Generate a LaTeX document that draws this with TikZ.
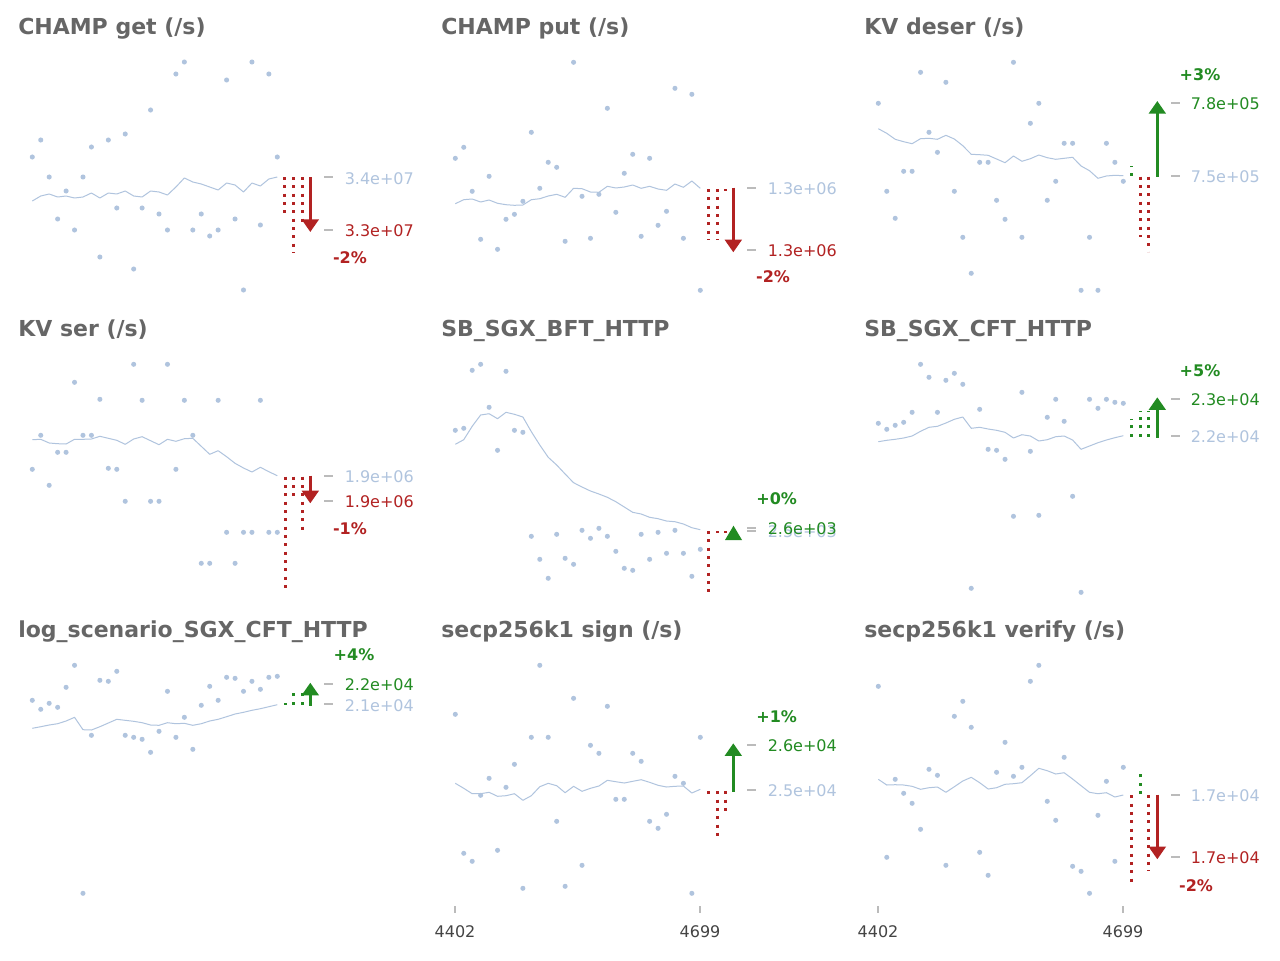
\documentclass[tikz,border=0pt]{standalone}
\usepackage{fontspec}
\setmainfont{DejaVu Sans}
\usetikzlibrary{arrows.meta}
\definecolor{steel}{HTML}{B0C4DE}
\definecolor{fire}{HTML}{B22222}
\definecolor{forest}{HTML}{228B22}
\definecolor{titlegrey}{HTML}{666666}
\definecolor{tickgrey}{HTML}{BBBBBB}
\definecolor{axisgrey}{HTML}{444444}
% runs: first x, run values, first mean, remaining means
\newcommand{\runs}[4]{%
  \foreach \py [count=\i from 0] in {#2} {\fill[steel] (#1+8.448*\i,\py) circle[radius=1.9pt];}
  \draw[trend] (#1,#3) \foreach \ly [count=\i from 1] in {#4} {-- (#1+8.448*\i,\ly)};
}
\begin{document}
\begin{tikzpicture}[x=0.75pt,y=-0.75pt,
    trend/.style={steel,line width=0.75pt,line join=round},
    spread/.style={line width=2.25pt,dash pattern=on 2.25pt off 4pt},
    tickmark/.style={tickgrey,line width=1.5pt},
    deltaarrow/.style={line width=2.25pt,-{Triangle[width=12.5pt,length=9.5pt]}},
    value/.style={anchor=west,inner sep=0pt,font=\fontsize{12}{14}\selectfont},
    pct/.style={inner sep=0pt,font=\fontsize{12}{14}\selectfont\bfseries},
    heading/.style={anchor=base west,inner sep=0pt,text=titlegrey,font=\fontsize{16.5}{20}\selectfont\bfseries}]
    \fill[white] (0,0) rectangle (1280,960);
    \useasboundingbox (0,0) rectangle (1280,960);

    % titles
    \node[heading] at (18,34.3) (t1) {CHAMP get (/s)};
    \node[heading] at (441,34.3) (t2) {CHAMP put (/s)};
    \node[heading] at (864,34.3) (t3) {KV deser (/s)};
    \node[heading] at (18,336) (t4) {KV ser (/s)};
    \node[heading] at (441,336) (t5) {SB\_SGX\_BFT\_HTTP};
    \node[heading] at (864,336) (t6) {SB\_SGX\_CFT\_HTTP};
    \node[heading] at (18,637.5) (t7) {log\_scenario\_SGX\_CFT\_HTTP};
    \node[heading] at (441,637.5) (t8) {secp256k1 sign (/s)};
    \node[heading] at (864,637.5) (t9) {secp256k1 verify (/s)};

    % CHAMP get
    \runs{32.3}{157,140,177,219,191,230,177,147,257,140,208,134,269,208,110,214,230,74,62,230,214,236,230,80,219,290,62,225,74,157}
      {201}{196,194,197,196,198,197,193,198,193,194,191,196,197,191,192,195,187,178,182,184,187,190,183,185,192,183,186,179,177}
    \draw[spread,fire] (284.3,177) -- (284.3,217);
    \draw[spread,fire] (293.3,177) -- (293.3,253);
    \draw[spread,fire] (302.3,177) -- (302.3,223);
    \draw[deltaarrow,fire] (310.3,177) -- (310.3,232);
    \draw[tickmark] (324,177) -- (333,177) (324,230) -- (333,230);
    \node[value,steel] at (344.5,179) (a1) {3.4e+07};
    \node[value,fire] at (344.5,231) (b1) {3.3e+07};
    \node[pct,fire] at (350,258) (p1) {-2\%};

    % CHAMP put
    \runs{455.3}{158.3,147.3,191.3,239.3,176.3,249.3,219.3,214.3,201.3,132.3,188.3,162.3,167.3,241.3,62.3,196.3,238.3,194.3,108.3,212.3,173.3,154.3,236.3,158.3,225.3,211.3,88.3,238.3,94.3,290.3}
      {203.7}{199.7,199,202,200,203.3,204.7,205.3,205,199.7,198.7,196,194.3,197.3,188.3,188.7,192,192.3,186.3,188,187,185,188.3,186.3,189,190.3,184,187.3,181,188.3}
    \draw[spread,fire] (708.3,189) -- (708.3,240);
    \draw[spread,fire] (717.3,189) -- (717.3,240);
    \draw[spread,fire] (725.3,189) -- (725.3,191);
    \draw[deltaarrow,fire] (733.3,187.5) -- (733.3,252.3);
    \draw[tickmark] (747,187.7) -- (756,187.7) (747,249.7) -- (756,249.7);
    \node[value,steel] at (767.5,189) (a2) {1.3e+06};
    \node[value,fire] at (767.5,251) (b2) {1.3e+06};
    \node[pct,fire] at (773,277) (p2) {-2\%};

    % KV deser
    \runs{878.3}{103.3,191.3,218.3,171.3,171.3,72.3,132.3,152.3,82.3,191.3,237.3,273.3,162.3,162.3,200.3,219.3,62.3,237.3,123.3,103.3,200.3,181.3,143.3,143.3,290.3,237.3,290.3,143.3,162.3,181.3}
      {128.7}{133.3,139.3,141.7,143.7,138.7,138.3,139.3,135.3,139,145.7,154.3,154.7,155.3,159,162.7,156,161.3,158.7,155,157.7,159.3,158.3,157.3,166,170.7,178.3,176,175.3,175.7}
    \draw[spread,forest] (1131.7,175.5) -- (1131.7,166);
    \draw[spread,fire] (1140.3,176.7) -- (1140.3,236.7);
    \draw[spread,fire] (1148.3,176.7) -- (1148.3,251.7);
    \draw[deltaarrow,forest] (1157.3,176.7) -- (1157.3,101);
    \draw[tickmark] (1171,102.7) -- (1180,102.7) (1171,176) -- (1180,176);
    \node[value,forest] at (1190.5,104) (a3) {7.8e+05};
    \node[value,steel] at (1190.5,177) (b3) {7.5e+05};
    \node[pct,forest] at (1200,74.3) (p3) {+3\%};

    % KV ser
    \runs{32.3}{469.3,435.3,485.3,452.3,452.3,382.3,435.3,435.3,399.3,468.3,469.3,501.3,364.3,400.3,501.3,501.3,364.3,469.3,400.3,435.3,563.3,563.3,400.3,532.3,563.3,532.3,532.3,400.3,532.3,532.3}
      {439.7}{439.3,443,443.7,444,439.3,439.3,439,436.3,438.3,440.3,444.3,439,436.7,440.7,444.7,439.3,441.3,438.7,438.3,446.3,454.3,450.7,456.7,463.3,468,472,467.3,471.7,475.7}
    \draw[spread,fire] (285.3,476.7) -- (285.3,588.3);
    \draw[spread,fire] (293.3,476.7) -- (293.3,500);
    \draw[spread,fire] (302.3,476.7) -- (302.3,530);
    \draw[deltaarrow,fire] (310.3,475.7) -- (310.3,503.3);
    \draw[tickmark] (324,475.7) -- (333,475.7) (324,501) -- (333,501);
    \node[value,steel] at (344.5,477) (a4) {1.9e+06};
    \node[value,fire] at (344.5,502) (b4) {1.9e+06};
    \node[pct,fire] at (350,529) (p4) {-1\%};

    % SB_SGX_BFT_HTTP
    \runs{455.3}{430.3,428.3,370.3,364.3,407.3,450.3,371.3,430.3,432.3,536.3,559.3,578.3,534.3,558.3,564.3,530.3,538.3,528.3,536.3,551.3,568.3,570.3,534.3,559.3,532.3,553.3,530.3,553.3,576.3,549.3}
      {444.3}{439.7,426.3,415,413.7,418.7,412.3,414.3,417,431.7,445,457.3,465,474,482.7,487,491,494,497.3,501.7,507,512.3,514,517.3,518.7,521,521.7,524,527.7,529.7}
    \draw[spread,fire] (708.3,531) -- (708.3,591.7);
    \draw[spread,fire] (717.3,531) -- (717.3,532.5);
    \draw[spread,fire] (725.3,531) -- (725.3,532.5);
    \fill[forest] (725,540) -- (742,540) -- (733.5,525.7) -- cycle;
    \draw[tickmark] (747,527.7) -- (756,527.7) (747,531) -- (756,531);
    \node[value,steel] at (767.5,532) (b5) {2.5e+03};
    \node[value,forest] at (767.5,529) (a5) {2.6e+03};
    \node[pct,forest] at (776.7,498.3) (p5) {+0\%};

    % SB_SGX_CFT_HTTP
    \runs{878.3}{423.3,429.3,425.3,422.3,412.3,364.3,377.3,412.3,380.3,373.3,384.3,588.3,409.3,449.3,450.3,459.3,516.3,392.3,451.3,515.3,417.3,399.3,421.3,496.3,592.3,399.3,408.3,399.3,402.3,403.3}
      {441.7}{440.3,439.3,438,436,431.3,427.3,426.3,423,419.3,417,428.3,427.3,429,430.3,432.3,438,434.7,436,441,439.7,436.7,436,440,449.3,446,442.7,440,437.7,435.7}
    \draw[spread,forest] (1131.7,436.7) -- (1131.7,419);
    \draw[spread,forest] (1140.3,436.7) -- (1140.3,411);
    \draw[spread,forest] (1148.3,436.7) -- (1148.3,411);
    \draw[deltaarrow,forest] (1157.3,437.7) -- (1157.3,397.3);
    \draw[tickmark] (1171,399) -- (1180,399) (1171,436.3) -- (1180,436.3);
    \node[value,forest] at (1190.5,400) (a6) {2.3e+04};
    \node[value,steel] at (1190.5,437) (b6) {2.2e+04};
    \node[pct,forest] at (1200,370.7) (p6) {+5\%};

    % log_scenario_SGX_CFT_HTTP
    \runs{32.3}{700.3,709.3,703.3,707.3,687.3,665.3,893.3,735.3,680.3,681.3,671.3,735.3,737.3,739.3,752.3,731.3,691.3,737.3,717.3,749.3,705.3,686.3,700.3,677.3,678.3,691.3,681.3,689.3,677.3,676.3}
      {728.3}{726.7,725,723.7,721,717.3,729.7,730,726.7,723,719.3,720.3,721.3,722.7,725,725.3,722.7,723.7,723.3,725.3,723.7,721,719.3,716.7,714,712.3,710.3,708.7,706.7,704.7}
    \draw[spread,forest] (285.3,704.5) -- (285.3,703);
    \draw[spread,forest] (293.3,704.5) -- (293.3,689);
    \draw[spread,forest] (302.3,704.5) -- (302.3,689);
    \draw[deltaarrow,forest] (310.3,705.7) -- (310.3,682.7);
    \draw[tickmark] (324,683.7) -- (333,683.7) (324,704.3) -- (333,704.3);
    \node[value,forest] at (344.5,685) (a7) {2.2e+04};
    \node[value,steel] at (344.5,706) (b7) {2.1e+04};
    \node[pct,forest] at (354,655) (p7) {+4\%};

    % secp256k1 sign
    \runs{455.3}{714.3,853.3,861.3,795.3,778.3,850.3,787.3,764.3,888.3,737.3,665.3,737.3,821.3,886.3,698.3,865.3,745.3,753.3,706.3,799.3,799.3,753.3,761.3,821.3,828.3,814.3,776.3,783.3,893.3,737.3}
      {783.3}{788.3,793.7,793.7,792.3,796.3,795.7,793.7,800.3,795.7,786.7,783.3,785.7,792.7,786.3,791.3,788.3,786,780.3,781.7,783,781.3,779.7,782.3,785.3,787,786.3,786,793,789.3}
    \draw[spread,fire] (708.3,791.3) -- (708.3,799.3);
    \draw[spread,fire] (717.3,791.3) -- (717.3,836);
    \draw[spread,fire] (725.3,791.3) -- (725.3,813.7);
    \draw[deltaarrow,forest] (733.3,791.7) -- (733.3,743.3);
    \draw[tickmark] (747,745) -- (756,745) (747,790) -- (756,790);
    \node[value,forest] at (767.5,746) (a8) {2.6e+04};
    \node[value,steel] at (767.5,791) (b8) {2.5e+04};
    \node[pct,forest] at (776.7,716.7) (p8) {+1\%};

    % secp256k1 verify
    \runs{878.3}{686.3,857.3,779.3,793.3,803.3,829.3,769.3,775.3,865.3,716.3,701.3,727.3,852.3,875.3,772.3,742.3,776.3,767.3,681.3,665.3,801.3,820.3,757.3,866.3,871.3,893.3,815.3,781.3,861.3,767.3}
      {779.3}{785,784.7,785,786.3,789.3,787.7,787,792.3,786.7,781,777.3,782.7,789,787.7,784.3,783.7,782.7,775.7,768.3,770.7,774,772.7,779,785.7,792.3,793.7,792.7,797,795}
    \draw[spread,fire] (1131.7,795.3) -- (1131.7,886.7);
    \draw[spread,forest] (1140.3,794) -- (1140.3,772.5);
    \draw[spread,fire] (1148.3,795.3) -- (1148.3,870.7);
    \draw[deltaarrow,fire] (1157.3,794.7) -- (1157.3,859.3);
    \draw[tickmark] (1171,794.7) -- (1180,794.7) (1171,857) -- (1180,857);
    \node[value,steel] at (1190.5,796) (a9) {1.7e+04};
    \node[value,fire] at (1190.5,858) (b9) {1.7e+04};
    \node[pct,fire] at (1196,885.3) (p9) {-2\%};

    % run axis
    \foreach \tx in {455,878} {
      \draw[tickmark,line width=1pt] (\tx,906) -- (\tx,913);
      \node[text=axisgrey,font=\fontsize{12}{14}\selectfont] at (\tx,932) {4402};
    }
    \foreach \tx in {700,1123} {
      \draw[tickmark,line width=1pt] (\tx,906) -- (\tx,913);
      \node[text=axisgrey,font=\fontsize{12}{14}\selectfont] at (\tx,932) {4699};
    }
\end{tikzpicture}
\end{document}
